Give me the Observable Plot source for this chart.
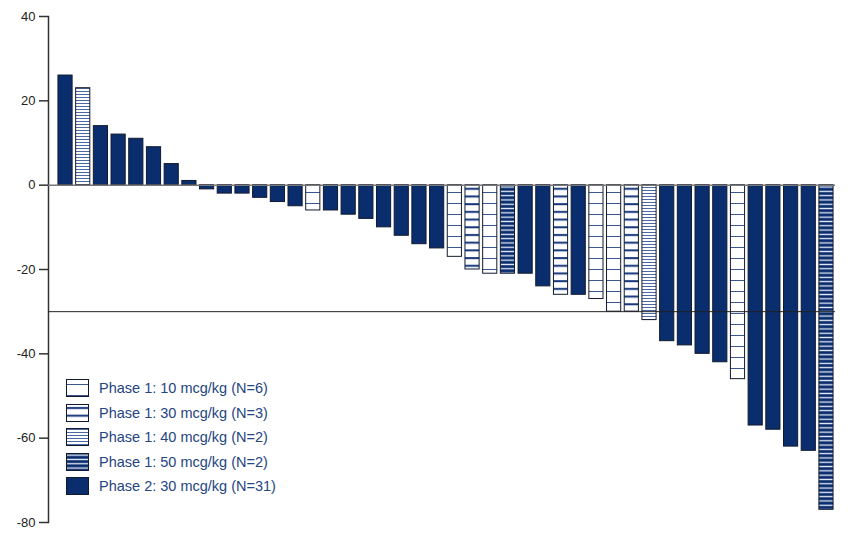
<!DOCTYPE html>
<html><head><meta charset="utf-8">
<script src="https://cdn.jsdelivr.net/npm/d3@7"></script>
<script src="https://cdn.jsdelivr.net/npm/@observablehq/plot@0.6"></script>
<style>
body{margin:0;background:#fff;font-family:"Liberation Sans",Arial,sans-serif;}
#wrap{position:relative;width:848px;height:539px;}
#legend{position:absolute;left:66px;top:376px;}
.row{display:flex;align-items:center;height:24.5px;}
.row svg{margin-right:10px;display:block}
.row span{color:#24457f;font-size:14.5px;white-space:nowrap}
</style></head><body><div id="wrap"><div id="legend"></div></div>
<script>
// Data
const groups = ["P2","P1-40","P2","P2","P2","P2","P2","P2","P2","P2","P2","P2","P2","P2",
  "P1-10","P2","P2","P2","P2","P2","P2","P2","P1-10","P1-30","P1-10","P1-50","P2","P2",
  "P1-30","P2","P1-10","P1-10","P1-30","P1-40","P2","P2","P2","P2","P1-10","P2","P2","P2","P2","P1-50"];
const values = [26,23,14,12,11,9,5,1,-1,-2,-2,-3,-4,-5,
  -6,-6,-7,-8,-10,-12,-14,-15,-17,-20,-21,-21,-21,-24,
  -26,-26,-27,-30,-30,-32,-37,-38,-40,-42,-46,-57,-58,-62,-63,-77];
const yTicks = [-80,-60,-40,-20,0,20,40];
const legendKeys = ["P1-10","P1-30","P1-40","P1-50","P2"];
const legendLabels = ["Phase 1: 10 mcg/kg (N=6)","Phase 1: 30 mcg/kg (N=3)","Phase 1: 40 mcg/kg (N=2)","Phase 1: 50 mcg/kg (N=2)","Phase 2: 30 mcg/kg (N=31)"];
const threshold = [-30];

const NAVY = "#0a2d6e";
const fills = {"P1-10":"url(#p10)","P1-30":"url(#p30)","P1-40":"url(#p40)","P1-50":"url(#p50)","P2":NAVY};
const data = values.map((v,i)=>({i, v, g: groups[i]}));

const chart = Plot.plot({
  width: 848, height: 539,
  marginLeft: 48, marginRight: 13, marginTop: 16, marginBottom: 17,
  x: {type:"band", domain: d3.range(values.length), paddingInner: 0.2, paddingOuter: 0.11, insetLeft: 8, axis: null},
  y: {domain: [-80, 40]},
  color: {type: "identity"},
  style: {fontFamily:"'Liberation Sans', Arial, sans-serif", fontSize:"13px", color:"#222", background:"#fff"},
  marks: [
    Plot.frame({anchor:"left", stroke:"#333", strokeWidth:1.5}),
    Plot.axisY({ticks: yTicks, tickSize: 9, tickPadding: 4, tickFormat: d => String(d), label: null, stroke:"#333", strokeWidth:1.5, fontSize:13}),
    Plot.barY(data, {x:"i", y:"v", fill: d => fills[d.g], stroke:"#111a2e", strokeWidth:1}),
    Plot.ruleY([0], {stroke:"#777", strokeWidth:1.5}),
    Plot.ruleY(threshold, {stroke:"#222", strokeWidth:1})
  ]
});

const defs = `
<pattern id="p10" patternUnits="userSpaceOnUse" width="8" height="11"><rect width="8" height="11" fill="#fff"/><rect y="5" width="8" height="1" fill="#3a5590"/></pattern>
<pattern id="p30" patternUnits="userSpaceOnUse" width="8" height="7.7"><rect width="8" height="7.7" fill="#fff"/><rect y="3" width="8" height="2" fill="#14357a"/></pattern>
<pattern id="p40" patternUnits="userSpaceOnUse" width="8" height="3"><rect width="8" height="3" fill="#fff"/><rect y="1" width="8" height="1" fill="#4a68a3"/></pattern>
<pattern id="p50" patternUnits="userSpaceOnUse" width="8" height="4.3"><rect width="8" height="4.3" fill="${NAVY}"/><rect y="1.5" width="8" height="1.3" fill="#e8eef8"/></pattern>`;
const ns = "http://www.w3.org/2000/svg";
const d = document.createElementNS(ns, "defs");
d.innerHTML = defs;
chart.insertBefore(d, chart.firstChild);
document.getElementById("wrap").insertBefore(chart, document.getElementById("legend"));

const leg = document.getElementById("legend");
legendKeys.forEach((k, j) => {
  const row = document.createElement("div");
  row.className = "row";
  row.innerHTML = `<svg width="23" height="18"><rect x="0.5" y="0.5" width="22" height="17" fill="${fills[k]}" stroke="#111a2e" stroke-width="1"/></svg><span>${legendLabels[j]}</span>`;
  leg.appendChild(row);
});
</script>
</body></html>
